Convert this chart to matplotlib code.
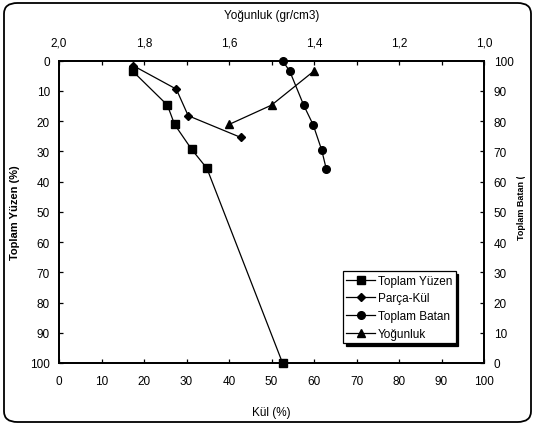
#!/usr/bin/env python3
# Float-sink curves: cumulative float / sink, fraction ash and density vs ash

import matplotlib
matplotlib.use("Agg")
import matplotlib.pyplot as plt
from matplotlib.patches import FancyBboxPatch, Rectangle
import numpy as np

plt.rcParams['font.family'] = ['Liberation Sans', 'DejaVu Sans']
plt.rcParams['font.size'] = 8.5

# Cumulative float (%) vs ash (%)
yuzen_kul = [17.3, 25.5, 27.2, 31.2, 34.8, 52.6]
yuzen = [3.4, 14.7, 21.1, 29.3, 35.6, 100]

# Fraction ash (%) at the mid point of each fraction
parca_kul = [17.4, 27.6, 30.4, 42.8]
parca_y = [1.6, 9.4, 18.2, 25.4]

# Cumulative sink (%) vs ash (%)
batan_kul = [52.6, 54.3, 57.6, 59.8, 61.8, 62.9]
batan = [100, 96.5, 85.2, 78.8, 70.5, 64.1]

# Separation density (gr/cm3) vs cumulative float
yogunluk = [1.4, 1.5, 1.6]
yogunluk_y = [3.4, 14.7, 21.1]

fig = plt.figure(figsize=(5.35, 4.27), dpi=100)
W, H = 535, 427

# rounded chart border
fig.patches.append(FancyBboxPatch((4 / W, 4 / H), 527 / W, 419 / H,
                                  boxstyle="round,pad=0,rounding_size=0.025",
                                  transform=fig.transFigure, fill=False,
                                  edgecolor='black', linewidth=1.3))

ax = fig.add_axes([59 / W, 1 - 364 / H, 425 / W, 302.3 / H])
ax_top = ax.twiny()
ax_right = ax.twinx()

line_kw = dict(color='black', linewidth=0.9)
h1, = ax.plot(yuzen_kul, yuzen, marker='s', markersize=5.5, label='Toplam Yüzen',
              clip_on=False, **line_kw)
h2, = ax.plot(parca_kul, parca_y, marker='D', markersize=4.3, label='Parça-Kül',
              clip_on=False, **line_kw)
h3, = ax_right.plot(batan_kul, batan, marker='o', markersize=5.5, label='Toplam Batan',
                    clip_on=False, **line_kw)
h4, = ax_top.plot(yogunluk, yogunluk_y, marker='^', markersize=6, label='Yoğunluk',
                  clip_on=False, **line_kw)

ax.set_xlim(0, 100)
ax.set_ylim(100, 0)
ax.set_xticks(np.arange(0, 101, 10))
ax.set_yticks(np.arange(0, 101, 10))

ax_top.set_xlim(2.0, 1.0)
ax_top.set_ylim(100, 0)
dens_ticks = [2.0, 1.8, 1.6, 1.4, 1.2, 1.0]
ax_top.set_xticks(dens_ticks)
ax_top.set_xticklabels([f"{t:.1f}".replace('.', ',') for t in dens_ticks])
ax_top.set_xticks([1.9, 1.7, 1.5, 1.3, 1.1], minor=True)

ax_right.set_ylim(0, 100)
ax_right.set_yticks(np.arange(0, 101, 10))

for a in (ax, ax_top, ax_right):
    a.tick_params(which='both', direction='in', length=3, width=0.9,
                  labelsize=8.5)
    for s in a.spines.values():
        s.set_linewidth(1.1)
ax.tick_params(axis='x', pad=9)
ax_top.tick_params(axis='x', pad=9)
ax.tick_params(axis='y', pad=6.5)
ax_right.tick_params(axis='y', pad=7)

ax.set_xlabel('Kül (%)', labelpad=13)
ax_top.set_xlabel('Yoğunluk (gr/cm3)', labelpad=13)
ax.set_ylabel('Toplam Yüzen (%)', fontweight='bold', fontsize=8, va='center')
ax.yaxis.set_label_coords((15 - 59) / 425, 0.5)

# right axis title is cut off by the chart border
rlabel = fig.text(522 / W, 1 - 240 / H, 'Toplam Batan (%)', rotation=90,
                  fontweight='bold', ha='center', va='bottom', fontsize=6.5)
clip = Rectangle((0, 0), 1, 1 - 178 / H, transform=fig.transFigure)
rlabel.set_clip_path(clip)

leg = ax.legend(handles=[h1, h2, h3, h4], loc='upper left',
                bbox_to_anchor=(0.668, 0.304), fontsize=8.5, frameon=True,
                fancybox=False, edgecolor='black', handlelength=2.4,
                handletextpad=0.25, borderpad=0.3, labelspacing=0.48,
                borderaxespad=0, shadow={'color': 'black', 'alpha': 1})
leg.get_frame().set_linewidth(0.9)
leg.set_zorder(10)

fig.savefig('out.png', dpi=100)
